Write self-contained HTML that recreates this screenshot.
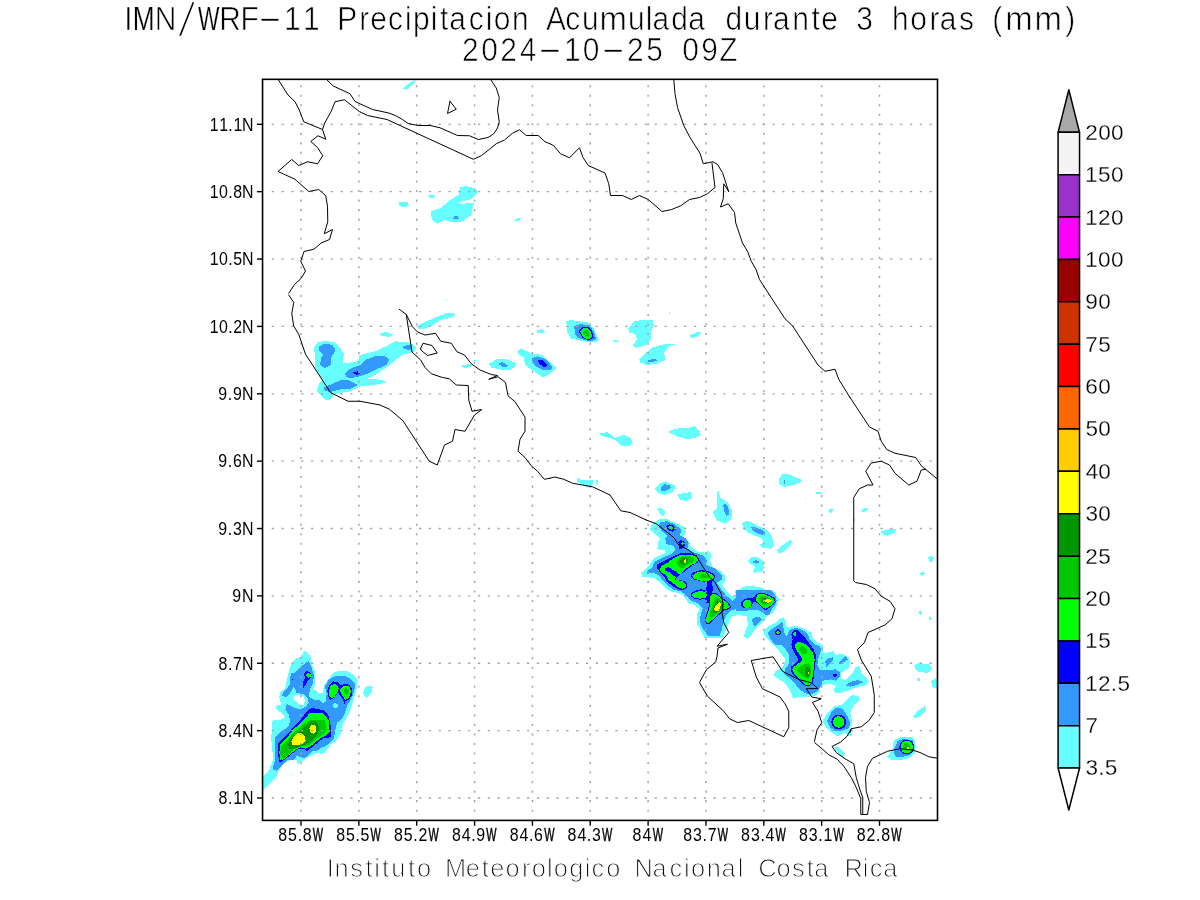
<!DOCTYPE html>
<html lang="es"><head><meta charset="utf-8"><title>IMN/WRF-11 Precipitacion Acumulada</title>
<style>html,body{margin:0;padding:0;background:#fff}body{width:1200px;height:900px;overflow:hidden}svg{display:block}text{font-family:"Liberation Sans",sans-serif;fill:#000;font-kerning:none;white-space:pre}.t1{font-size:34px;stroke:#fff;stroke-width:.7px}.sl{font-size:50px;stroke-width:2.6px}.cap{font-size:25.4px;stroke:#fff;stroke-width:1px;fill:#111}.ax{font-size:17.7px}.wb{stroke:#000;stroke-width:.45px}.nw{stroke-width:.25px}.cb{font-size:21.3px;stroke:#fff;stroke-width:.25px}.coast{fill:none;stroke:#000;stroke-width:1;stroke-linejoin:round;stroke-linecap:round}.grid{stroke:#a4a4a4;fill:none}.gh{stroke-width:1.3;stroke-dasharray:2.3 7.518}.gv{stroke-width:1.5;stroke-dasharray:2.1 7.433}.fr{fill:none;stroke:#000;stroke-width:1.6}</style></head><body>
<svg width="1200" height="900" viewBox="0 0 1200 900">
<rect width="1200" height="900" fill="#fff"/>
<defs><clipPath id="c"><rect x="262.55" y="79.33" width="674.95" height="741.07"/></clipPath></defs>
<g clip-path="url(#c)" shape-rendering="crispEdges">
<polygon fill="#66ffff" points="402.5,88.5 410,82.5 417,79.5 413,84.5 406.25,89.75"/>
<polygon fill="#66ffff" points="398.25,202.5 407.5,202 408.75,206.25 402.5,207.25 399.25,205.5"/>
<polygon fill="#66ffff" points="428.25,195.5 436.25,194.5 433.75,197.5 430,198.5"/>
<polygon fill="#66ffff" points="430.5,211.25 440,208.25 450,200 458.75,195 460,187.5 466.25,186 476.25,188.75 477.5,192.5 472.5,197.5 473.75,203.75 471.25,215 462.5,221.25 452.5,222.5 443.75,220 437.5,223.75 432,220"/>
<polygon fill="#66ffff" points="495.88,256.25 495.83,256.49 495.69,256.69 495.49,256.83 495.25,256.88 495.01,256.83 494.81,256.69 494.67,256.49 494.62,256.25 494.67,256.01 494.81,255.81 495.01,255.67 495.25,255.62 495.49,255.67 495.69,255.81 495.83,256.01"/>
<polygon fill="#66ffff" points="436.25,193.25 438.75,192.75 438,194.25"/>
<polygon fill="#66ffff" points="514.5,220.5 517.5,218 522,218 518,221.5"/>
<polygon fill="#66ffff" points="313.75,347.5 317.5,342.5 325,340.75 335,342.5 340,347.5 343.75,353.75 342.5,363.75 357.5,361.25 360,355 375,351.25 386.25,346.25 395,341.25 410,342.5 416.25,347.5 413.75,352 402.5,355 395,360.5 386.25,367.5 375,375 367.5,378.75 382.5,380 386.25,382.5 375,385 360,386.25 350,391.25 335,393.75 330,400 325,400 316.25,391.25 318.75,383.75 322.5,380 315,367.5 315.5,357.5"/>
<polygon fill="#66ffff" points="379.25,333.75 386.25,332 393,334.5 390,336.75 381.25,336.25"/>
<polygon fill="#66ffff" points="417,326.25 425,322 435,317.5 447.5,312.5 453.75,312.5 455.5,315 450,318 440,320 432.5,325.5 422.5,329.5 418.75,328.75"/>
<polygon fill="#66ffff" points="460.75,365.75 470,363.75 472.5,366.25 465,368"/>
<polygon fill="#66ffff" points="488.75,363.75 496.25,359.5 505,358.75 515,362.5 516.25,366.25 510,370 500,369.5 491.25,367.5"/>
<polygon fill="#66ffff" points="517.5,351.25 521.25,348.25 532.5,353.75 542.5,355 550,362 556.25,368.25 550,373.75 542.5,377.5 535,372.5 525,365 523.75,357.5 518.75,355"/>
<polygon fill="#66ffff" points="536.25,330.75 541.25,329.25 545.75,331.25 542.5,333 537.5,332.5"/>
<polygon fill="#66ffff" points="447.02,300.4 446.98,300.64 446.84,300.84 446.64,300.98 446.4,301.02 446.16,300.98 445.96,300.84 445.82,300.64 445.77,300.4 445.82,300.16 445.96,299.96 446.16,299.82 446.4,299.77 446.64,299.82 446.84,299.96 446.98,300.16"/>
<polygon fill="#66ffff" points="474,359.75 477,359.5 476.5,360.75 474.25,361"/>
<polygon fill="#66ffff" points="566.25,321.25 570,320 587.5,322.5 593.75,328.75 598.75,340 595,342.5 582.5,341.25 571.25,338.75 567.5,332.5"/>
<polygon fill="#66ffff" points="612,340.75 616.25,340 619.5,341.75 615.5,342.5"/>
<polygon fill="#66ffff" points="628.25,328.75 633.75,321.25 645,319.5 653,320.5 653.75,325 650.75,331.25 651.25,338.75 646.25,345 635,348 633,345 637,338.75 635,333.75 629.5,332.5"/>
<polygon fill="#66ffff" points="639.25,358.75 645,353.75 652.5,347.5 662.5,344.5 677.5,344 670,345.75 663.75,352.5 665.75,359.5 657.5,363.75 646.25,365 640,362.5"/>
<polygon fill="#66ffff" points="690,335 696.25,332.5 701.75,332 697.5,337 690.75,338"/>
<polygon fill="#66ffff" points="600,433.25 607.5,432 615,438 623.75,435 630,437.5 632.5,442.5 630,446.25 621.25,446.25 615,440 607.5,437.5 600.75,435.5"/>
<polygon fill="#66ffff" points="668,432 675,428.75 690,427.5 694.5,425.75 698.75,430 700.75,435 695,438 686.25,439.25 675,435.75"/>
<polygon fill="#66ffff" points="576.25,481.25 578.75,477.5 581.25,480.5 592.5,480 593,485 587.5,488 582.5,485"/>
<polygon fill="#66ffff" points="596.25,480 597.75,480 597.75,483.75 596.25,483.75"/>
<polygon fill="#66ffff" points="654.25,488.75 660,483 665.75,481.25 676.25,486.25 672.5,492.5 663.75,495 657.5,492.5"/>
<polygon fill="#66ffff" points="677,494.25 691.25,492 692,498.75 686.25,501.25 680,499.5"/>
<polygon fill="#66ffff" points="657,508.75 661.25,507.5 665,512.5 663.75,516.25 660,513.75"/>
<polygon fill="#66ffff" points="712.5,511.25 717.5,508.75 717,495 718,489.5 720,497.5 727.5,502.5 732,510.5 730.5,520 725,523.75 716.25,520"/>
<polygon fill="#66ffff" points="778.75,478.75 782.5,474.25 787.5,473.75 802.5,480 797.5,484.25 783.75,487 779.5,483.75"/>
<polygon fill="#66ffff" points="815.75,492 822,492 822,493.75 815.75,493.75"/>
<polygon fill="#66ffff" points="828.25,510 831.25,508 834.25,509.25 831.25,513 828.75,512"/>
<polygon fill="#66ffff" points="658.75,518.75 667.5,518.75 667.5,520.5 658.75,520.5"/>
<polygon fill="#66ffff" points="670.25,313 670.19,313.29 670.03,313.53 669.79,313.69 669.5,313.75 669.21,313.69 668.97,313.53 668.81,313.29 668.75,313 668.81,312.71 668.97,312.47 669.21,312.31 669.5,312.25 669.79,312.31 670.03,312.47 670.19,312.71"/>
<polygon fill="#66ffff" points="806.5,498.75 806.44,499.04 806.28,499.28 806.04,499.44 805.75,499.5 805.46,499.44 805.22,499.28 805.06,499.04 805,498.75 805.06,498.46 805.22,498.22 805.46,498.06 805.75,498 806.04,498.06 806.28,498.22 806.44,498.46"/>
<polygon fill="#66ffff" points="861.25,508.75 868.75,508 867,511.25 862,511.75"/>
<polygon fill="#66ffff" points="304,651.33 308,652.67 310.67,657.33 312,665.33 315.33,672 315.33,680 314,689.33 318,692.67 322.67,693.33 324,685.33 328.67,678.67 334,672 340.67,670.93 348,671.33 354,675.33 357.33,678.67 357.33,685.33 355.33,693.33 353.33,700 351.33,706.67 348.67,714 345.33,720 342,725.33 340.67,733.33 336.67,740 330,745.33 324,753.33 318,753.33 312.67,752 307.33,757.33 300.67,759.33 294,760 274,760 272.67,753.33 271.33,740 272.67,726.67 273.33,720.67 282,719.33 284.67,716.67 280,712 275.33,708 277.33,705.33 281.33,704.67 279.33,697.33 280,692.67 285.33,688 286.67,680 288.67,672.67 290,666.67 295.33,658.67 300,657.33"/>
<polygon fill="#66ffff" points="363.33,692 365.33,687.33 369.33,685.33 372.67,686.67 372,691.33 369.33,695.33 366.67,697.6 363.6,695.73"/>
<polygon fill="#66ffff" points="344,720 340.67,728 338.67,737.33 332.67,742.67 327.33,749.33 322.67,754 316.67,752.67 311.33,755.33 306,758.67 302,761.33 298,764 296,758.67 290,760 283.33,764 278,772 276.67,777.33 271.33,782.67 267.33,786.67 263.07,790.67 263.07,776 268.67,770.67 272,762.67 274,757.33 274,744 271.33,737.33 272,725.33 272.67,720"/>
<polygon fill="#66ffff" points="292.93,774.4 292.89,774.6 292.78,774.78 292.6,774.89 292.4,774.93 292.2,774.89 292.02,774.78 291.91,774.6 291.87,774.4 291.91,774.2 292.02,774.02 292.2,773.91 292.4,773.87 292.6,773.91 292.78,774.02 292.89,774.2"/>
<polygon fill="#66ffff" points="658,520 667.33,519.33 676.67,523.33 684.67,527.33 686,532.67 683.33,536.67 688.67,540.67 690.67,546 696.67,551.33 704.67,552.67 708.67,550.67 711.33,554 710,560.67 712.67,567.33 719.33,570 724.67,575.33 725.33,580.67 722,584.67 726,590 730,595.33 735.33,596.67 736.67,591.33 743.33,586.67 751.33,586 760.67,587.33 768.67,591.33 776.67,595.33 779.33,599.33 776.67,606 771.33,611.33 768.67,615.33 763.33,615.33 758,612.67 750,612.67 744.67,615.33 736.67,615.33 731.33,616.67 728.67,623.33 726,630 723.33,638 704.67,638 700.67,630 696.67,623.33 696.67,615.33 699.33,608.67 694,604.67 688.67,603.33 683.33,595.33 676.67,592.67 670,591.33 664.67,587.33 659.33,582 654,578 642,576.67 641.33,572.67 648.67,566 654,558 666,552.67 664.67,550 657.33,549.33 658,542 660.67,538.67 656.67,535.33 650,530 652,524"/>
<polygon fill="#66ffff" points="658.27,510 664.4,510 664.93,513.33 662.67,515.6 660,514"/>
<polygon fill="#66ffff" points="712.67,511.33 715.33,510 731.33,510 732,515.33 730,520.67 723.33,519.33 719.33,521.33 716.67,516.67"/>
<polygon fill="#66ffff" points="742,523.33 746,520.67 751.33,522 758,526 764.67,528.67 770,532.67 772.67,539.33 774,546 771.33,548.67 762,548 759.33,545.33 763.33,542 761.33,538 755.33,536 748.67,532.67 743.33,528.67"/>
<polygon fill="#66ffff" points="748,560 751.33,557.33 758,557.33 763.33,561.33 764.67,567.33 762,572 754,572.67 752.67,570.67 755.33,567.33 751.33,564.67 748.67,562.67"/>
<polygon fill="#66ffff" points="776.67,550 783.33,544.67 790,540 792,542 790,546 784.67,551.33 779.33,554"/>
<polygon fill="#66ffff" points="740,590 772,590 776,594 778.67,599.33 777.33,604.67 773.33,612.67 768.67,615.33 765.33,618.67 760,624.67 754.67,630 751.33,635.33 747.33,638.67 744,636.67 744.67,632.67 748,624.67 746.67,616 740,615.33 734.67,615.33 734.67,590"/>
<polygon fill="#66ffff" points="763.33,631.33 768,626.67 774.67,623.33 780,618.67 784,617.33 786,622 786.67,627.33 793.33,626 800,626.67 805.33,630 812,632.67 812.67,638 817.33,642.67 822.67,644.67 823.33,650 823.33,653.33 830,652 832.67,651.33 836,654.67 843.33,654 848.67,657.33 850.67,662.67 848.67,668 844.67,670.67 840.67,673.33 841.33,678.67 846,680 852.67,673.33 855.33,667.33 859.33,666 861.33,673.33 866,677.33 868.67,681.33 866,685.33 859.33,686.67 852.67,688.67 846,691.33 839.33,693.33 834.67,692.67 834,689.33 836,686 830,684 823.33,684.67 820,686.67 820,691.33 816,695.33 809.33,696.67 800,696.67 793.33,698.67 791.33,694 788,687.33 784,682 778.67,679.33 773.33,675.33 775.33,671.33 781.33,668.67 784,664.67 785.33,659.33 781.33,654 777.33,648.67 772,643.33 766.67,638 764,634.67"/>
<polygon fill="#66ffff" points="831.33,708.67 836,706 841.33,704.67 846.67,700.67 849.33,696.67 853.33,695.33 858.67,696.67 859.33,699.33 854.67,702 850.67,706 846.67,710 844,712 832,712"/>
<polygon fill="#66ffff" points="880.75,531.25 887.5,529.5 896.25,528.75 895,532.5 887.5,535.5 882,533.75"/>
<polygon fill="#66ffff" points="928.25,557.5 931.25,555.75 933.75,558.75 931.25,562.5 928.75,561.25"/>
<polygon fill="#66ffff" points="919.25,573.75 923.75,571.25 925,573.75 922.5,576.25"/>
<polygon fill="#66ffff" points="918,612.5 921.25,610 922.5,613.75 920,615"/>
<polygon fill="#66ffff" points="929.25,616.25 932.5,618.75 929.5,620"/>
<polygon fill="#66ffff" points="914.25,665 918.75,663.25 930,664.5 931.75,670 927.5,673 918.75,671.75 915.5,668.75"/>
<polygon fill="#66ffff" points="917,678.75 919.5,678 920,681.25"/>
<polygon fill="#66ffff" points="931.25,682.5 935,678.75 937,678 937,687 932.5,687"/>
<polygon fill="#66ffff" points="913.25,716.25 918.75,710 924.5,706.25 925.75,710 921.25,715.5 915.5,718"/>
<polygon fill="#66ffff" points="822.5,721.25 827.5,712.5 833.75,706.25 842.5,706.25 846.25,700 852.5,695 858.75,696.25 860,700 853.75,705 850,712.5 852.5,721.25 850,728.75 852.5,735 848.75,736.25 845,732.5 837.5,736.25 830,731.25 825,726.25"/>
<polygon fill="#66ffff" points="833.75,747.5 838.75,747 845,753.75 842.5,757 837.5,752.5"/>
<polygon fill="#66ffff" points="913,716.25 918.75,710 925,706.25 926.25,710 921.25,715 915,718"/>
<polygon fill="#66ffff" points="887,756.25 892.5,750 893.75,740 900,737.5 912.5,737 915.5,742.5 915,752.5 910,757.5 900,760.5 891.25,760"/>
<polygon fill="#66ffff" points="931.25,681.25 936.25,677.5 937.5,677.5 937.5,687.5 933.75,687.5"/>
<polygon fill="#66ffff" points="917,678 920,678.5 920,681.25 917.5,680.5"/>
<polygon fill="#ffffff" points="458.68,202.4 464.68,200.68 474,198 475.75,200 474.25,202.4 467.32,202.93 462.68,204"/>
<polygon fill="#3399ff" points="452.5,218.75 455,215.75 457.5,216.25 458.75,219"/>
<polygon fill="#3399ff" points="319.5,346.25 325,343.75 332.5,345 335.75,350 331.25,357.5 330.5,365 325,368 320,365 321.25,357.5 323.75,355 318.75,350"/>
<polygon fill="#3399ff" points="345,373 350,368.75 360,365 365,360 375,356.25 385,356.25 389.25,359.5 386.25,365 375,370 367.5,373.75 360,376.25 350,378.25 345.75,376.25"/>
<polygon fill="#3399ff" points="323.75,387.5 332.5,383.75 342.5,379.5 350,380.75 357.5,385 350,388.75 340,389.5 330,392 324.5,390.5"/>
<polygon fill="#3399ff" points="401.75,346.75 407.5,345 412.5,346.25 411.25,350 405,349.25"/>
<polygon fill="#3399ff" points="498.25,363.75 502.5,362 508.75,366.25 502.5,367"/>
<polygon fill="#3399ff" points="531.25,358.75 537.5,356.25 545,358.75 550,363.75 552.5,367.5 550,370 542.5,370 535,366.25"/>
<polygon fill="#3399ff" points="574.25,326.25 580,324.25 588.75,325 593.75,331.25 596.25,339.5 590,341.25 580,338.75 575,335"/>
<polygon fill="#3399ff" points="647.5,360 656.25,358.75 657,361.25 648.75,362"/>
<polygon fill="#3399ff" points="660.75,487.5 663.75,484.25 670,485 670.75,488 665,491.25 661.25,490.5"/>
<polygon fill="#3399ff" points="723.25,505 725.75,503.75 728.25,507.5 729.5,515 726.25,515.75 724.25,511.25"/>
<polygon fill="#3399ff" points="783.75,480 785,480 785,483.75 783.75,483.75"/>
<polygon fill="#3399ff" points="308.67,660.67 312,668.67 314,676 312.67,684 310,689.33 308.67,696 312.67,699.33 319.33,700 322.67,703.33 326,701.33 326.67,693.33 324.67,686.67 328.67,680 333.33,676.67 340.67,676 347.33,676.67 352.67,680.67 355.33,684 354,692 351.33,698.67 347.33,705.33 345.33,712 342,718.67 337.33,722.67 335.33,729.33 334,738.67 328.67,744 322,747.33 316.67,750.67 311.33,750.67 308.67,754.67 303.33,757.33 296.67,756 294,760 275.33,760 275.33,742.67 276.67,736 283.33,733.33 288.67,728 290,720 288.67,714.67 285.33,709.33 286.67,704 290,705.33 295.33,708 300.67,709.33 306,706.67 308.67,702.67 307.33,697.33 303.33,694.67 296.67,693.33 294,686.67 290,693.33 286,697.33 282,696 283.33,692 287.33,688 290,684 290.67,673.33 295.33,672.67 300.67,666.67"/>
<polygon fill="#3399ff" points="337.33,720 334,728 333.33,736 330,741.33 324.67,746.67 320.67,748 315.33,748.67 310,753.33 306,757.33 302,758 299.33,753.33 294,756 287.33,760 280.67,766.67 276.67,770.67 273.33,770 273.33,765.33 276,758.67 275.33,744 275.33,737.33 280.67,732 290,725.33 291.33,720"/>
<polygon fill="#3399ff" points="660,522 667.33,521.33 675.33,524.67 681.33,530 680,535.33 686,538.67 688.67,543.33 687.33,548.67 694,552.67 703.33,555.33 707.33,560.67 706,564.67 715.33,568.67 722,575.33 722,579.33 716.67,582.67 720.67,588.67 726,595.33 732.67,600.67 739.33,595.33 747.33,591.33 755.33,590.67 763.33,590.67 770,594 776.67,598.67 775.33,604.67 770,610 768.67,614 764.67,613.33 758,610 750,610 743.33,611.33 736.67,609.33 731.33,610 727.33,614 723.33,620.67 722,630 719.33,636 708.67,636 703.33,630 700,622 700.67,614 702.67,608.67 698,603.33 691.33,600.67 686,595.33 680.67,591.33 674,590 668.67,586 663.33,580.67 658.67,575.33 652.67,572.67 647.33,574 646.67,571.33 652.67,567.33 654,562 662,558 671.33,554 675.33,550 674,546 666,544 665.33,538.67 667.33,535.33 662,531.33 658.67,526.67"/>
<polygon fill="#3399ff" points="724.67,510 729.33,510 729.33,514 726.67,515.6 724.93,512.67"/>
<polygon fill="#3399ff" points="750.67,526.67 754,526.67 762,530 765.33,533.33 764.67,535.33 759.33,534 752.67,530.67"/>
<polygon fill="#3399ff" points="752.67,561.33 756,560 760,562 756.67,563.6 753.33,563.07"/>
<polygon fill="#3399ff" points="740,590 770.67,590 774.93,594.67 776.67,600 775.33,604.67 771.33,610 769.33,614.67 765.33,615.33 762.67,611.33 757.33,608.67 750.67,610 744,611.33 740,611.33 736,611.33 736,590"/>
<polygon fill="#3399ff" points="752,619.33 755.33,617.33 760,617.33 762,619.6 758.67,623.33 754.67,626.67 752.67,623.33"/>
<polygon fill="#3399ff" points="768,632 773.33,628 778.67,624.67 782,621.33 783.33,626 784,632.67 786.67,636.67 789.33,630 796,628 802.67,630 808,634 809.33,639.33 814.67,644.67 820,646 821.33,650 818.67,656.67 817.33,664.67 820,670 828,670 836,669.33 840,672.67 840,676.67 836,680.67 830.67,679.33 822.67,680.67 821.33,686 817.33,691.33 812,694 806.67,694 802.67,691.33 798.67,688.67 794.67,683.33 789.33,678 784,674 785.33,668.67 789.33,663.33 789.33,655.33 785.33,648.67 781.33,644.67 774.67,644.67 770.67,639.33 768.67,635.33"/>
<polygon fill="#3399ff" points="825.33,661.33 828.67,658 832.67,657.33 832.67,660.67 829.33,664.67 826,667.33"/>
<polygon fill="#3399ff" points="838.67,663.33 842.67,658.67 846,656 848,659.33 844,662 840.67,664"/>
<polygon fill="#3399ff" points="845.33,685.33 850.67,682 857.33,680 864,682 857.33,684.67 850.67,686.67"/>
<polygon fill="#3399ff" points="834.67,708.67 838.67,707.33 842,710 840,711.6 835.33,710.67"/>
<polygon fill="#3399ff" points="827,721.25 831.25,712.5 836.25,707.5 842.5,708.75 847.5,716.25 850.5,723.75 848.75,728 842.5,730.5 835,731.25 830,727.5"/>
<polygon fill="#3399ff" points="893.75,750 897.5,741.25 903.75,738.75 912.5,740.5 913.75,750 910,755 900,757.5 895,756.25"/>
<polygon fill="#66ffff" points="291.33,696 295.33,692.67 303.33,694 307.33,698.67 306.67,705.33 302.67,708 296.67,705.33 292.67,700.67"/>
<polygon fill="#66ffff" points="338,705.6 337.8,706.47 337.22,707.2 336.35,707.69 335.33,707.87 334.31,707.69 333.45,707.2 332.87,706.47 332.67,705.6 332.87,704.73 333.45,704 334.31,703.51 335.33,703.33 336.35,703.51 337.22,704 337.8,704.73"/>
<polygon fill="#ffffff" points="293.33,696.67 296,694.67 302.67,696 304.93,700 304,704.67 300.67,705.33 296.67,702 294,699.33"/>
<polygon fill="#0000ff" points="771.73,602.67 774.4,600.67 774.93,602.67 773.07,604.4"/>
<polygon fill="#0000ff" points="353,372.5 357.5,371.25 360,373.75 356.25,375"/>
<polygon fill="#0000ff" points="537.5,360.5 542.5,360 547.5,365 545,367.5 540,364.5"/>
<polygon fill="#0000ff" points="578.75,331.25 582.5,327 587.5,326.25 592,330.75 593.75,337.5 588.75,340 582.5,338"/>
<polygon fill="#0000ff" points="304,673.33 306.67,670.93 310,672 311.6,675.33 310,678.67 307.33,681.33 303.33,688.67 303.07,682.67 304.93,677.33"/>
<polygon fill="#0000ff" points="293.07,679.33 293.02,679.59 292.87,679.8 292.66,679.95 292.4,680 292.14,679.95 291.93,679.8 291.78,679.59 291.73,679.33 291.78,679.08 291.93,678.86 292.14,678.72 292.4,678.67 292.66,678.72 292.87,678.86 293.02,679.08"/>
<polygon fill="#0000ff" points="327.33,690 329.33,684.67 333.33,681.33 337.33,682 340.67,685.33 344.67,684 349.33,684.67 352,689.33 352,694.67 349.33,699.33 345.33,701.33 344.67,704.67 343.33,700 340.67,696 338,692.67 335.33,696 332.67,698.67 330,700 328,696"/>
<polygon fill="#0000ff" points="278.67,743.33 284.67,737.33 292.67,728 299.33,721.33 303.33,716 307.33,710.67 311.33,708.27 316.67,708.67 324.67,710.67 328,714.67 330,721.33 330.67,730.67 331.33,736 328.67,738 324,738 319.33,741.33 312.67,746.67 307.33,750.67 303.33,748.67 298,748.67 292.67,752 286,757.33 282,760 278.67,760"/>
<polygon fill="#0000ff" points="278.67,761.33 278,744 284.67,737.33 294,728 300.67,721.33 303.33,720 330,720 331.07,730.67 330.67,736 327.33,738 322.67,738 316.67,742.67 311.33,746.67 306.67,750.67 303.33,748.67 298,748.67 292.67,753.33 286,758.67 282,761.33 278.67,762.67"/>
<polygon fill="#0000ff" points="666,526.67 669.33,524 674,526 676,529.33 672.67,531.6 668.67,530.67"/>
<polygon fill="#0000ff" points="678,542 681.33,540 685.33,542.67 684.67,546 680.67,549.33 678.67,548.67 679.33,545.33"/>
<polygon fill="#0000ff" points="656.67,564.67 664.67,560.67 672.67,556.67 680.67,553.33 690,553.33 696.67,555.33 699.33,559.33 698,562.67 691.33,566 686,570.67 680.67,574 678,576.67 675.33,579.33 683.33,580.67 687.33,583.33 687.33,587.33 683.33,590 678,589.33 672.67,586 667.33,582 664,576.67 660,572.67 657.33,568.67"/>
<polygon fill="#0000ff" points="690.67,575.33 694,572 700.67,570 708.67,571.33 714,574 715.33,577.33 712.67,580.67 711.33,584 713.33,587.33 712,592.67 710,595.33 708.67,603.33 706,603.33 704.67,599.33 699.33,599.6 694,598.67 690.67,596 690.67,593.33 695.33,590.67 700.67,589.33 706,590 706.67,586 707.33,582.67 702,581.33 695.33,580 692,578"/>
<polygon fill="#0000ff" points="708.67,595.33 712.67,592.4 716.67,593.33 720.67,596.67 724.67,599.33 728.67,603.33 731.33,606.67 729.33,609.33 724.67,610 722,612.67 716.67,616.67 712.67,620.67 710,624 706.67,624 704.67,620.67 706,615.33 708,610 709.33,603.33"/>
<polygon fill="#0000ff" points="740.67,603.33 743.33,600 747.33,598.27 752.67,598.27 755.33,595.33 758.67,592.67 763.33,592.67 770,595.33 774.67,598 776,602 772.67,605.33 769.33,608 766,610 763.33,609.33 760,606 756.67,602.67 753.33,602 752,605.33 749.33,608 744.67,608.4 741.73,606.67"/>
<polygon fill="#0000ff" points="780.93,632.27 780.71,633.39 780.07,634.34 779.12,634.98 778,635.2 776.88,634.98 775.93,634.34 775.29,633.39 775.07,632.27 775.29,631.14 775.93,630.19 776.88,629.56 778,629.33 779.12,629.56 780.07,630.19 780.71,631.14"/>
<polygon fill="#0000ff" points="837.07,675.33 836.91,675.95 836.48,676.46 835.83,676.81 835.07,676.93 834.3,676.81 833.65,676.46 833.22,675.95 833.07,675.33 833.22,674.72 833.65,674.2 834.3,673.86 835.07,673.73 835.83,673.86 836.48,674.2 836.91,674.72"/>
<polygon fill="#0000ff" points="791.33,634.67 793.33,630.67 797.33,630 801.33,633.33 805.33,638 809.33,643.33 813.33,648.67 816,655.33 815.33,664.67 814,672.67 813.33,680.67 812,684 809.33,686.67 804,685.33 798.67,680.67 793.33,675.33 790.67,670.67 791.33,666.67 796,662.67 798.67,660 796,655.33 792.67,650 791.33,644.67 792.67,639.33"/>
<polygon fill="#0000ff" points="846.25,722 845.68,724.87 844.05,727.3 841.62,728.93 838.75,729.5 835.88,728.93 833.45,727.3 831.82,724.87 831.25,722 831.82,719.13 833.45,716.7 835.88,715.07 838.75,714.5 841.62,715.07 844.05,716.7 845.68,719.13"/>
<polygon fill="#0000ff" points="914.25,747 913.68,749.87 912.05,752.3 909.62,753.93 906.75,754.5 903.88,753.93 901.45,752.3 899.82,749.87 899.25,747 899.82,744.13 901.45,741.7 903.88,740.07 906.75,739.5 909.62,740.07 912.05,741.7 913.68,744.13"/>
<polygon fill="#00ff00" points="580.25,331.75 583.5,328 587.5,327.5 591,331.75 592.25,337 588.25,339.25 583.25,337.25"/>
<polygon fill="#00ff00" points="306,674.93 308,672.67 310.67,674.4 310.67,676.67 308.67,678 307.07,677.07"/>
<polygon fill="#00ff00" points="328.67,690.67 330.67,686 334,683.33 336.67,684.67 338.67,688.67 337.33,692.67 334.67,696.67 331.6,698.4 329.33,695.33"/>
<polygon fill="#00ff00" points="340,689.33 342.67,686.67 346,685.33 349.33,686.67 350.93,690.67 350,695.33 348,698.67 344.93,700 342.67,696 340.67,692.67"/>
<polygon fill="#00ff00" points="280,745.33 286,738.67 294,728.67 301.33,722.67 306,717.33 310,712.67 315.33,712.67 323.33,713.33 327.33,718 328.67,725.33 329.73,732 326,735.33 322,737.33 316.67,741.33 310.67,746 306,748.67 300.67,747.33 295.33,749.33 288.67,754 282.67,758.67 280.4,760 279.33,753.33"/>
<polygon fill="#00ff00" points="280.4,758.67 279.6,745.33 286,738.67 294.67,729.33 301.33,722.67 304.67,720 328.67,720 329.6,731.33 326,735.33 322,737.33 316.67,741.33 310.67,746 306,748 299.33,747.33 294,751.33 288.67,755.33 282.67,760"/>
<polygon fill="#00ff00" points="668,527.33 670.67,525.6 673.73,527.73 671.33,530"/>
<polygon fill="#00ff00" points="680.4,543.33 682.67,541.73 684.67,543.6 682.4,545.33"/>
<polygon fill="#00ff00" points="661.33,566 667.33,562.67 674,558 681.33,554.67 690,554.67 696,556.67 698.67,560 695.33,563.33 690,565.33 684.67,570 680,574 676.67,577.33 674.67,579.33 682.67,581.33 686,584 685.73,587.33 682.67,588.67 678,587.33 674,584 668.67,580 666,575.33 661.33,572.67 660,569.33"/>
<polygon fill="#00ff00" points="692.4,575.6 695.33,572.93 701.33,571.33 708.67,572.67 713.33,575.33 714,577.73 711.33,580 706,581.33 699.33,580.4 694,578.67"/>
<polygon fill="#00ff00" points="691.6,594.67 695.33,592 700.67,590.93 705.33,592 707.07,595.33 705.33,598 700,598.67 694.67,597.73"/>
<polygon fill="#00ff00" points="710,596.67 713.33,593.73 716.67,594.67 720.67,598 724.67,600.67 728,604 730,606.67 728,608.4 724,608.93 720.67,612 716,616 712,620 709.33,622.67 706.67,622.67 705.73,620 707.07,615.33 708.93,610 710.27,603.33"/>
<polygon fill="#00ff00" points="751.6,603.73 751.28,605.37 750.35,606.75 748.97,607.68 747.33,608 745.7,607.68 744.32,606.75 743.39,605.37 743.07,603.73 743.39,602.1 744.32,600.72 745.7,599.79 747.33,599.47 748.97,599.79 750.35,600.72 751.28,602.1"/>
<polygon fill="#00ff00" points="755.33,598 758.67,594 763.33,594 769.33,596.4 774,599.07 774.67,602 771.33,604.93 768,607.33 765.33,608.67 762.67,607.33 760,604 756.67,601.33"/>
<polygon fill="#00ff00" points="779.6,632.27 779.48,632.88 779.13,633.4 778.61,633.74 778,633.87 777.39,633.74 776.87,633.4 776.52,632.88 776.4,632.27 776.52,631.65 776.87,631.14 777.39,630.79 778,630.67 778.61,630.79 779.13,631.14 779.48,631.65"/>
<polygon fill="#00ff00" points="793.07,634 794.93,631.33 796,633.33 795.73,636 794,636"/>
<polygon fill="#00ff00" points="794.67,646 796,642.67 800,642 805.33,644 809.33,648 812.67,652.67 814.67,659.33 814,667.33 812.67,675.33 812,682 810,685.33 805.33,684.67 802.67,682 799.33,679.33 794.67,674.67 792.27,670 793.33,667.33 798.67,663.33 802.67,660 800,655.33 796.67,650.67"/>
<polygon fill="#00ff00" points="844.5,722 844.06,724.2 842.82,726.07 840.95,727.31 838.75,727.75 836.55,727.31 834.68,726.07 833.44,724.2 833,722 833.44,719.8 834.68,717.93 836.55,716.69 838.75,716.25 840.95,716.69 842.82,717.93 844.06,719.8"/>
<polygon fill="#00ff00" points="913,747 912.52,749.39 911.17,751.42 909.14,752.77 906.75,753.25 904.36,752.77 902.33,751.42 900.98,749.39 900.5,747 900.98,744.61 902.33,742.58 904.36,741.23 906.75,740.75 909.14,741.23 911.17,742.58 912.52,744.61"/>
<polygon fill="#0000ff" points="664.4,568.67 668,567.07 675.33,571.07 679.6,574.4 677.33,577.6 673.33,575.6 669.33,572.27 664.93,571.07"/>
<polygon fill="#00c800" points="582.5,333 584.75,330.5 587.5,330.25 589.25,333 590,335.75 587.75,337 584.75,335.75"/>
<polygon fill="#00c800" points="348.67,691.33 348.48,692.61 347.96,693.69 347.19,694.41 346.27,694.67 345.35,694.41 344.57,693.69 344.05,692.61 343.87,691.33 344.05,690.06 344.57,688.98 345.35,688.25 346.27,688 347.19,688.25 347.96,688.98 348.48,690.06"/>
<polygon fill="#00c800" points="288.67,744 294,737.33 301.33,730.67 307.33,724.67 310,720.67 315.33,719.33 320.67,720.67 324.67,724.67 326,728.67 325.33,732 320.67,734.67 316.67,738 311.33,742.67 306,745.33 299.33,745.33 294,748 288.67,752 282,756 280,754.67 280.67,749.33 283.33,746.67"/>
<polygon fill="#00c800" points="280.93,757.33 280.67,746.67 287.33,740 295.33,731.33 303.33,724.67 310.67,720 324.67,720 326.67,729.33 324,733.33 319.33,736.67 314,741.33 308.67,745.33 300.67,746 295.33,748.67 290,753.33 284,758"/>
<polygon fill="#00c800" points="676,562.67 679.33,558 684.67,555.33 690.67,556 694.67,558.67 692.67,562.67 687.33,564.67 683.33,568 679.33,567.33"/>
<polygon fill="#00c800" points="698.67,576 702,574 707.33,574.67 710,576.67 708,578.27 702.67,578.27 699.33,577.73"/>
<polygon fill="#00c800" points="711.33,608.67 713.33,602 715.33,596.67 718.67,598 722,601.33 724,604.67 723.33,608.67 719.33,612 715.33,615.33 711.33,618 709.33,616.67 710,612.67"/>
<polygon fill="#00c800" points="758.67,598.67 761.33,596 765.33,596.4 770,598.67 772,601.33 768.67,604 764.67,605.33 761.33,603.33"/>
<polygon fill="#00c800" points="798.67,648.67 801.33,646 805.33,647.33 807.33,650.67 806,654 802.67,654 800,652"/>
<polygon fill="#00c800" points="796,670 800,666.67 805.33,664 809.33,663.33 811.33,667.33 810.67,674 808.67,678.67 805.33,678 800.67,674.67"/>
<polygon fill="#00c800" points="910.5,747 910.21,748.44 909.4,749.65 908.19,750.46 906.75,750.75 905.31,750.46 904.1,749.65 903.29,748.44 903,747 903.29,745.56 904.1,744.35 905.31,743.54 906.75,743.25 908.19,743.54 909.4,744.35 910.21,745.56"/>
<polygon fill="#009600" points="287.33,745.33 291.33,738.67 300.67,732 307.33,726.67 311.33,721.33 315.33,720.67 318,723.33 319.33,728 318,733.33 314,738.67 308.67,742.67 303.33,745.33 296.67,748 290,749.33"/>
<polygon fill="#009600" points="287.33,745.33 290,739.33 295.33,734.67 303.33,728 308.67,722.67 312.67,721.33 316.67,722.67 318.67,726.67 318,732 314,737.33 308.67,741.33 303.33,744 296.67,746.67 290,748.67"/>
<polygon fill="#009600" points="680,561.33 682,558 686,557.33 688,560 686.67,563.33 683.33,564.67 680.67,564"/>
<polygon fill="#009600" points="713.33,608.67 715.33,603.33 717.33,600 720.67,602 722,605.33 720.67,609.33 716.67,612.67 713.33,613.33"/>
<polygon fill="#009600" points="761.33,599.33 764,597.73 767.33,598.67 768.67,601.33 765.33,603.33 762.67,602.27"/>
<polygon fill="#009600" points="804.67,670 806.67,667.07 809.33,668 810,672.67 808.67,677.33 806,676.67 805.07,673.33"/>
<polygon fill="#ffff00" points="291.33,741.33 294,736 298,733.33 302.67,734 305.33,737.33 305.33,741.33 302,744 296.67,745.33 292,744.67"/>
<polygon fill="#ffff00" points="309.33,728 311.33,725.33 314.67,724.67 316,727.33 315.6,732 314,734 311.33,732.67 309.73,730.67"/>
<polygon fill="#ffff00" points="291.33,741.33 293.33,736.67 297.33,733.33 302,733.33 304.93,736.67 305.73,740.67 302.67,743.33 297.33,744.67 292,745.33"/>
<polygon fill="#ffff00" points="309.33,728 311.07,725.6 314.27,724.67 316,727.33 315.6,732 314,734 311.33,732.67 309.73,730.67"/>
<polygon fill="#ffff00" points="683.73,561.33 684.93,559.07 686.27,559.6 685.73,562.67 684.4,563.33"/>
<polygon fill="#ffff00" points="714,608.67 716.67,604.67 719.33,601.73 720.67,603.33 720.4,608 718.67,610.67 715.33,611.07"/>
<polygon fill="#ffff00" points="764,600.67 767.33,599.07 772,600 770.67,602 767.33,603.07"/>
<polygon fill="#ffff00" points="808,672.27 808.93,672.27 808.93,674 808,674"/>
<polygon fill="#ffff00" points="909.25,748 909.17,748.48 908.96,748.88 908.63,749.15 908.25,749.25 907.87,749.15 907.54,748.88 907.33,748.48 907.25,748 907.33,747.52 907.54,747.12 907.87,746.85 908.25,746.75 908.63,746.85 908.96,747.12 909.17,747.52"/>
</g>
<g class="grid">
<line class="gv" x1="301.03" y1="811.75" x2="301.03" y2="79.33" />
<line class="gv" x1="358.88" y1="811.75" x2="358.88" y2="79.33" />
<line class="gv" x1="416.72" y1="811.75" x2="416.72" y2="79.33" />
<line class="gv" x1="474.57" y1="811.75" x2="474.57" y2="79.33" />
<line class="gv" x1="532.42" y1="811.75" x2="532.42" y2="79.33" />
<line class="gv" x1="590.26" y1="811.75" x2="590.26" y2="79.33" />
<line class="gv" x1="648.11" y1="811.75" x2="648.11" y2="79.33" />
<line class="gv" x1="705.96" y1="811.75" x2="705.96" y2="79.33" />
<line class="gv" x1="763.81" y1="811.75" x2="763.81" y2="79.33" />
<line class="gv" x1="821.65" y1="811.75" x2="821.65" y2="79.33" />
<line class="gv" x1="879.50" y1="811.75" x2="879.50" y2="79.33" />
<line class="gh" x1="271.7" y1="124.30" x2="934.5" y2="124.30"/>
<line class="gh" x1="271.7" y1="191.67" x2="934.5" y2="191.67"/>
<line class="gh" x1="271.7" y1="259.04" x2="934.5" y2="259.04"/>
<line class="gh" x1="271.7" y1="326.41" x2="934.5" y2="326.41"/>
<line class="gh" x1="271.7" y1="393.78" x2="934.5" y2="393.78"/>
<line class="gh" x1="271.7" y1="461.15" x2="934.5" y2="461.15"/>
<line class="gh" x1="271.7" y1="528.52" x2="934.5" y2="528.52"/>
<line class="gh" x1="271.7" y1="595.89" x2="934.5" y2="595.89"/>
<line class="gh" x1="271.7" y1="663.26" x2="934.5" y2="663.26"/>
<line class="gh" x1="271.7" y1="730.63" x2="934.5" y2="730.63"/>
<line class="gh" x1="271.7" y1="798.00" x2="934.5" y2="798.00"/>
</g>
<g clip-path="url(#c)" class="coast">
<polyline points="278,79.25 288,95 295,101.75 299.25,110 303.75,121.75 322.5,129.5 325.75,139.25 318,135.75 310.75,141.5 317.5,147.5 322.75,155.75 317.5,163.75 307.5,161.75 298.75,165.5 291.75,159.5 278,171.5 295,179.25 308.75,191.5 318.75,189.5 325.75,195.75 327.5,206.25 327.75,221.75 324.25,233.75 332.5,229.5 329.5,239.5 321.25,243 313.75,249.25 304,251.5 300.75,261.25 305.5,271 301.25,278.25 294.5,284.5 288.75,293.25"/>
<polyline points="322.5,129.5 325,122.5 331.25,111.25 335,101.75 344.5,99.75 359.25,111.5 367.5,115.5 387,119.5 473.25,159.25 481.25,155.75 496.25,143.75 504.5,140 512.5,133.25 519.5,129.75 526.25,135.5 538.25,135.5 545,141.75 550,143.75"/>
<polyline points="326.25,79.25 333.25,86 350,93.75 355,101.5 372.5,109.5 388.75,113 395.75,115.75 402.5,119.5 408.25,123.5 418,125.5 430,125.5 440,127.75 457.5,135.5 469.5,135.75 478.25,139.5 488,137.5 493.75,133.75 497.5,128 499.25,121.75 497.5,110 499.25,97.5 496.25,88 490.5,79.25"/>
<polyline points="450,101.25 456.25,109.25 447.5,113.5 450,101.25"/>
<polyline points="550,143.75 553.75,145.75 560.5,153.75 569.5,157.75 579.5,147.75 583,157.5 588.25,165.5 605,173 608.75,183.75 610.5,195.5 622.5,195.5 631.25,199.5 639.5,195.5 648.25,199.5 662,211.5 671.75,209.5 680.75,205.75 689.5,199.5 699.5,197.5 707.5,193.75 715,187.5 712,163.25"/>
<polyline points="673.75,79.25 675,93.75 677.5,107.5 683.75,125.5 690,137.5 700,153.25 703.25,163.75 713,161.75 717.5,164.5 722.5,172.5 728.75,191.75 723.75,183.75 723.25,198.75 720.5,207 728.25,203.75 734.5,212.5 735.75,223 742.5,243 747.5,251.25 751.25,261.25 756.25,270 759.5,279.5 769.5,295"/>
<polyline points="288.75,295 293.75,302.5 291.75,313.75 293.75,326.25 298.75,334.25 305.5,354.25 330.5,392.5 348,401.25 360,401.25 380,405 389.5,409.25 403,420.75 429.25,461.25 437.25,465 444.5,445 452.5,441.25 455,429.5 465,431.25 474.5,415 481.75,409.5 472,411.25 468.75,400 468.25,385.5 456.25,385 449.25,378.75 442.5,377.5 431.25,373.75 425,367.5 420.75,360 412,352 406.25,314.5 399.25,309.25"/>
<polyline points="406.25,314.5 412.5,326.75 417.5,332 425,335 435.5,333.25 440.75,341.25 451.25,343.25 457,351.75 464.5,355 471.25,363.75 480,370 491.25,374.5 497.5,375.5 488.75,379.25 498,376.75 505.5,382.5 508,395.75 515,401.75 525,417 525,431.25 520,439.25 518,451.25 525,457.5 531.25,465.75 537.5,471.25 544.25,479.25 550,478.25"/>
<polyline points="420.75,348.25 423,343.25 432,345.5 437.25,353 427.5,355.5 420.75,350 420.75,348.25"/>
<polyline points="769.5,295 785,318.75 792.5,325.75 818,365 825,371.25 835,369.25 838.75,379.25 850,397.5"/>
<polyline points="550,478.25 554.5,477 563.75,479.25 572.5,483.25 582.5,485 592.5,486.75 610,495 620.75,510.75 630,512.5 646.25,520"/>
<polyline points="850,397.5 869.5,427 878,431.25 881.25,441.25 886.75,449.5 895,453.25 915.75,457.5 921.25,465.75 937,478.75"/>
<polyline points="925.75,469.25 921.25,470 917,481.25 908.75,485 895,473.25 889.5,465 881.25,461.25 871.25,463 865.75,471.25 873,485 867.5,485 859.25,488.75 853.75,497.5 853.75,520"/>
<polyline points="646.25,520 656.25,523.75 667.5,532.5 673.75,537.5 678.75,545 688.75,550 697.5,557.5 702.5,566.25 710,577.5 715,582.5 721.25,593.75 723,603.75 722,612.5 723.75,622.5 728.75,632.5 717,646.25 727.5,644.25 718,648 717,656.25 715.75,661.75 706.25,670 699.5,682.5 707.5,696.25 723.75,711.25 729.5,718.75 737.5,722.5 748.75,720.5 783.75,736.75 788.75,727.5 788.75,711.25 785,703.75 780,697 762.5,688.75 756.25,677 751.25,660.5 773,656.75 782.5,671.25 798.75,679.5 811.25,682.75 818,688.5 806.25,688.75 811.75,697 821.25,698.75 812.5,702.5 818,711.25 821.75,722.5 817,730 814.5,741.25"/>
<polyline points="853.75,520 853.75,580.75 855.5,582.5 866.25,584.5 875,588.75 881.25,596.25 890,601.25 895,608.75 892,618.75 885,625 868,632.5 864.5,642.5 857.5,649.5 861.25,660 871.25,676.25 874.25,695 874.25,712.5 868.75,720.75 861.25,726.75 851.25,728.75 850,732.5"/>
<polyline points="814.75,742.75 822,748.75 828.75,754.75 837.25,759.25 843.75,766.25 851.25,777.5 856.25,787.5 860.75,798.75 860.75,814.5 867.5,814.5 869.5,802.5 866.25,791.25 865.5,777.5 867.5,766.25 872.5,758.25 887.5,751.25 900,748.75 912.5,750 920,752.5 928.75,756.75 937.5,758.25"/>
<polyline points="851.25,728.75 847.25,736 840.75,742 832,746.5 836.25,752.5 845,758.75 853.75,763.75 856.25,777.5 860,790 862.75,797.5 862.75,814"/>
</g>
<rect class="fr" x="262.55" y="79.33" width="674.95" height="741.07"/>
<g stroke="#000" stroke-width="1.4">
<line x1="301.03" y1="820.4" x2="301.03" y2="825.8"/>
<line x1="358.88" y1="820.4" x2="358.88" y2="825.8"/>
<line x1="416.72" y1="820.4" x2="416.72" y2="825.8"/>
<line x1="474.57" y1="820.4" x2="474.57" y2="825.8"/>
<line x1="532.42" y1="820.4" x2="532.42" y2="825.8"/>
<line x1="590.26" y1="820.4" x2="590.26" y2="825.8"/>
<line x1="648.11" y1="820.4" x2="648.11" y2="825.8"/>
<line x1="705.96" y1="820.4" x2="705.96" y2="825.8"/>
<line x1="763.81" y1="820.4" x2="763.81" y2="825.8"/>
<line x1="821.65" y1="820.4" x2="821.65" y2="825.8"/>
<line x1="879.50" y1="820.4" x2="879.50" y2="825.8"/>
<line x1="256.95" y1="124.30" x2="262.55" y2="124.30"/>
<line x1="256.95" y1="191.67" x2="262.55" y2="191.67"/>
<line x1="256.95" y1="259.04" x2="262.55" y2="259.04"/>
<line x1="256.95" y1="326.41" x2="262.55" y2="326.41"/>
<line x1="256.95" y1="393.78" x2="262.55" y2="393.78"/>
<line x1="256.95" y1="461.15" x2="262.55" y2="461.15"/>
<line x1="256.95" y1="528.52" x2="262.55" y2="528.52"/>
<line x1="256.95" y1="595.89" x2="262.55" y2="595.89"/>
<line x1="256.95" y1="663.26" x2="262.55" y2="663.26"/>
<line x1="256.95" y1="730.63" x2="262.55" y2="730.63"/>
<line x1="256.95" y1="798.00" x2="262.55" y2="798.00"/>
</g>
<text class="ax" transform="scale(0.9,1)" x="309.26 320.13 330.72 336.40 347.54" y="841">85.8<tspan class="wb" textLength="11.43" lengthAdjust="spacingAndGlyphs">W</tspan></text>
<text class="ax" transform="scale(0.9,1)" x="373.54 384.41 394.99 400.69 411.81" y="841">85.5<tspan class="wb" textLength="11.43" lengthAdjust="spacingAndGlyphs">W</tspan></text>
<text class="ax" transform="scale(0.9,1)" x="437.81 448.68 459.27 464.94 476.08" y="841">85.2<tspan class="wb" textLength="11.43" lengthAdjust="spacingAndGlyphs">W</tspan></text>
<text class="ax" transform="scale(0.9,1)" x="502.09 513.00 523.54 529.22 540.36" y="841">84.9<tspan class="wb" textLength="11.43" lengthAdjust="spacingAndGlyphs">W</tspan></text>
<text class="ax" transform="scale(0.9,1)" x="566.36 577.27 587.82 593.43 604.63" y="841">84.6<tspan class="wb" textLength="11.43" lengthAdjust="spacingAndGlyphs">W</tspan></text>
<text class="ax" transform="scale(0.9,1)" x="630.64 641.55 652.09 657.82 668.91" y="841">84.3<tspan class="wb" textLength="11.43" lengthAdjust="spacingAndGlyphs">W</tspan></text>
<text class="ax" transform="scale(0.9,1)" x="702.69 713.94 725.40" y="841">84<tspan class="wb" textLength="11.43" lengthAdjust="spacingAndGlyphs">W</tspan></text>
<text class="ax" transform="scale(0.9,1)" x="759.19 770.09 780.64 786.31 797.46" y="841">83.7<tspan class="wb" textLength="11.43" lengthAdjust="spacingAndGlyphs">W</tspan></text>
<text class="ax" transform="scale(0.9,1)" x="823.46 834.36 844.91 850.65 861.73" y="841">83.4<tspan class="wb" textLength="11.43" lengthAdjust="spacingAndGlyphs">W</tspan></text>
<text class="ax" transform="scale(0.9,1)" x="887.73 898.64 909.19 915.10 926.01" y="841">83.1<tspan class="wb" textLength="11.43" lengthAdjust="spacingAndGlyphs">W</tspan></text>
<text class="ax" transform="scale(0.9,1)" x="952.01 962.86 973.46 979.14 990.28" y="841">82.8<tspan class="wb" textLength="11.43" lengthAdjust="spacingAndGlyphs">W</tspan></text>
<text class="ax" transform="scale(0.9,1)" x="232.93 243.50 253.68 259.36 268.77" y="130.6">11.1N</text>
<text class="ax" transform="scale(0.9,1)" x="232.93 243.28 253.68 259.14 268.77" y="197.97">10.8N</text>
<text class="ax" transform="scale(0.9,1)" x="232.93 243.28 253.68 259.16 268.77" y="265.34">10.5N</text>
<text class="ax" transform="scale(0.9,1)" x="232.93 243.28 253.68 259.14 268.77" y="332.71">10.2N</text>
<text class="ax" transform="scale(0.9,1)" x="242.61 253.20 258.87 268.77" y="400.08">9.9N</text>
<text class="ax" transform="scale(0.9,1)" x="242.61 253.20 258.81 268.77" y="467.45">9.6N</text>
<text class="ax" transform="scale(0.9,1)" x="242.61 253.20 258.92 268.77" y="534.82">9.3N</text>
<text class="ax" transform="scale(0.9,1)" x="258.17 268.77" y="602.19">9N</text>
<text class="ax" transform="scale(0.9,1)" x="242.68 253.25 258.88 268.77" y="669.56">8.7N</text>
<text class="ax" transform="scale(0.9,1)" x="242.68 253.25 258.95 268.77" y="736.93">8.4N</text>
<text class="ax" transform="scale(0.9,1)" x="242.68 253.25 259.12 268.77" y="804.3">8.1N</text>
<text class="t1" transform="scale(0.88,1)" x="141.06 150.78 175.89 200.77 224.87 249.21 273.28 292.23 322.70 344.44 368.64 383.22 408.22 420.61 440.92 460.13 469.36 489.63 500.02 510.54 532.71 551.92 560.98 581.72 607.16 620.38 642.20 661.34 681.35 713.75 733.84 741.36 762.79 782.01 811.08 824.36 845.10 866.96 878.44 900.23 922.17 933.29 960.00 972.92 1001.14 1013.77 1034.43 1056.33 1067.83 1089.69 1115.34 1127.66 1142.47 1175.71 1210.45" y="30.1">I<tspan class="nw" textLength="24.79" lengthAdjust="spacingAndGlyphs">M</tspan>N<tspan class="sl" textLength="22.63" lengthAdjust="spacingAndGlyphs" dy="7">/</tspan><tspan dy="-7" class="nw" textLength="24.42" lengthAdjust="spacingAndGlyphs">W</tspan>RF<tspan textLength="28.85" lengthAdjust="spacingAndGlyphs" dy="-1">-</tspan><tspan dy="1">1</tspan>1 Precipitacion Acu<tspan textLength="31.23" lengthAdjust="spacingAndGlyphs">m</tspan>ulada durante 3 horas (<tspan textLength="31.23" lengthAdjust="spacingAndGlyphs">m</tspan><tspan textLength="31.23" lengthAdjust="spacingAndGlyphs">m</tspan>)</text>
<text class="t1" transform="scale(0.88,1)" x="524.99 546.79 568.60 590.51 610.50 641.04 662.36 682.46 712.51 734.35 761.99 775.37 796.84 817.35" y="61.4">2024<tspan textLength="28.85" lengthAdjust="spacingAndGlyphs" dy="-1">-</tspan><tspan dy="1">1</tspan>0<tspan textLength="28.85" lengthAdjust="spacingAndGlyphs" dy="-1">-</tspan><tspan dy="1">2</tspan>5 09Z</text>
<text class="cap" x="326.86 334.54 350.35 365.45 374.17 382.10 391.16 407.89 416.94 436.50 444.92 465.67 481.79 490.27 505.41 521.95 531.64 546.94 553.77 569.23 584.67 591.58 606.24 625.90 634.42 652.59 669.40 683.93 690.88 706.63 721.46 737.86 748.65 758.21 776.61 791.94 806.66 814.37 835.50 844.42 862.72 869.65 883.37" y="877">Instituto Meteorologico Nacional Costa Rica</text>
<g stroke="#000" stroke-width="1.5" stroke-linejoin="round">
<polygon fill="#a8a8a8" points="1058.1,132.33 1068.82,89.8 1079.55,132.33"/>
<rect fill="#f4f4f4" x="1058.1" y="132.33" width="21.45" height="42.38"/>
<rect fill="#9932cc" x="1058.1" y="174.71" width="21.45" height="42.38"/>
<rect fill="#ff00ff" x="1058.1" y="217.09" width="21.45" height="42.38"/>
<rect fill="#990000" x="1058.1" y="259.47" width="21.45" height="42.38"/>
<rect fill="#cc3300" x="1058.1" y="301.85" width="21.45" height="42.38"/>
<rect fill="#ff0000" x="1058.1" y="344.23" width="21.45" height="42.38"/>
<rect fill="#ff6600" x="1058.1" y="386.61" width="21.45" height="42.38"/>
<rect fill="#ffcc00" x="1058.1" y="428.99" width="21.45" height="42.38"/>
<rect fill="#ffff00" x="1058.1" y="471.37" width="21.45" height="42.38"/>
<rect fill="#009600" x="1058.1" y="513.75" width="21.45" height="42.38"/>
<rect fill="#00c800" x="1058.1" y="556.13" width="21.45" height="42.38"/>
<rect fill="#00ff00" x="1058.1" y="598.51" width="21.45" height="42.38"/>
<rect fill="#0000ff" x="1058.1" y="640.89" width="21.45" height="42.38"/>
<rect fill="#3399ff" x="1058.1" y="683.27" width="21.45" height="42.38"/>
<rect fill="#66ffff" x="1058.1" y="725.65" width="21.45" height="42.38"/>
<polygon fill="#fff" points="1058.1,768.03 1068.82,810.0 1079.55,768.03"/>
</g>
<text class="cb" transform="scale(1.06,1)" x="1023.80 1035.99 1048.17" y="139.78">200</text>
<text class="cb" transform="scale(1.06,1)" x="1023.66 1035.81 1048.17" y="182.16">150</text>
<text class="cb" transform="scale(1.06,1)" x="1023.66 1035.79 1048.17" y="224.54">120</text>
<text class="cb" transform="scale(1.06,1)" x="1023.66 1035.79 1048.17" y="266.92">100</text>
<text class="cb" transform="scale(1.06,1)" x="1023.88 1036.09" y="309.3">90</text>
<text class="cb" transform="scale(1.06,1)" x="1023.78 1036.15" y="351.68">75</text>
<text class="cb" transform="scale(1.06,1)" x="1023.79 1036.09" y="394.06">60</text>
<text class="cb" transform="scale(1.06,1)" x="1024.02 1036.09" y="436.44">50</text>
<text class="cb" transform="scale(1.06,1)" x="1024.39 1036.09" y="478.82">40</text>
<text class="cb" transform="scale(1.06,1)" x="1024.06 1036.09" y="521.2">30</text>
<text class="cb" transform="scale(1.06,1)" x="1023.80 1036.15" y="563.58">25</text>
<text class="cb" transform="scale(1.06,1)" x="1023.80 1036.09" y="605.96">20</text>
<text class="cb" transform="scale(1.06,1)" x="1023.66 1036.15" y="648.34">15</text>
<text class="cb" transform="scale(1.06,1)" x="1023.66 1035.75 1047.96 1054.27" y="690.72">12.5</text>
<text class="cb" transform="scale(1.06,1)" x="1024.02" y="733.1">7</text>
<text class="cb" transform="scale(1.06,1)" x="1024.06 1036.05 1042.19" y="775.48">3.5</text>
</svg></body></html>
